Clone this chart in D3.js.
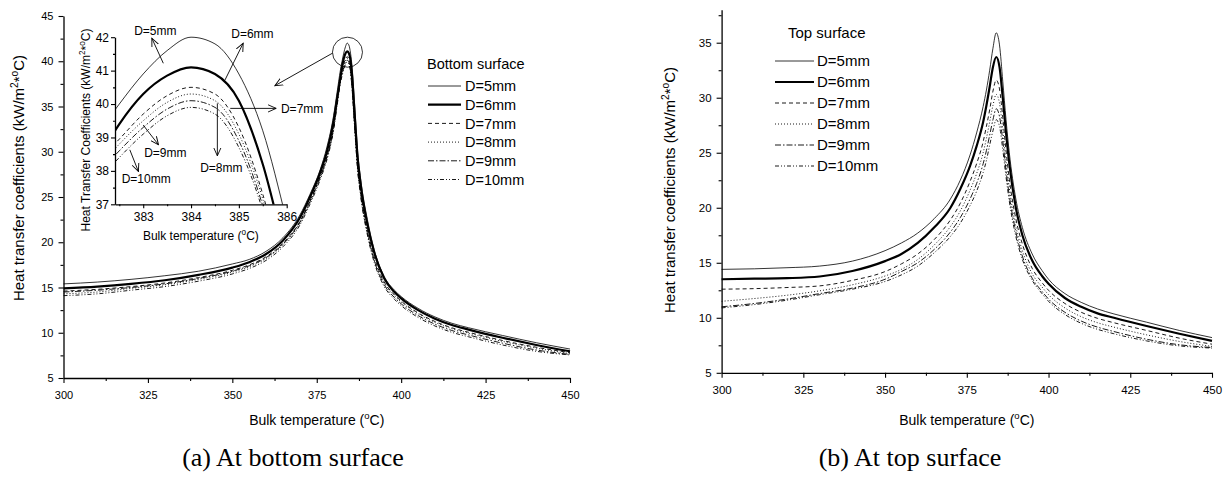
<!DOCTYPE html>
<html>
<head>
<meta charset="utf-8">
<script src="https://cdn.jsdelivr.net/npm/d3@7"></script>
<style>
  body { margin: 0; background: #fff; }
  svg { display: block; }
  text { font-family: Arial, "Liberation Sans", sans-serif; fill: #000; }
</style>
</head>
<body>
<div id="base"></div>
<script>
/* global d3 */

// series names (legend order)
var seriesNames = ["D=5mm", "D=6mm", "D=7mm", "D=8mm", "D=9mm", "D=10mm"];

// (a) bottom surface
var bottomTemps = [300, 310, 320, 330, 340, 350, 355, 360, 365, 370, 373, 376, 378, 380, 381, 382,
  382.5, 383, 383.5, 384, 384.5, 385, 385.5, 386, 386.5, 387, 388, 390, 392, 395, 398, 400,
  405, 410, 415, 420, 430, 440, 450];
var bottomD5 = [15.4, 15.6, 15.9, 16.3, 16.8, 17.6, 18.1, 19.0, 20.5, 23.0, 25.3, 28.0, 30.5, 34.0, 36.5, 39.0,
  40.0, 40.9, 41.6, 42.0, 41.8, 40.9, 39.2, 36.5, 33.5, 30.5, 27.0, 22.5, 19.2, 16.2, 14.7, 14.0,
  12.7, 11.75, 11.05, 10.55, 9.7, 8.9, 8.2];
var bottomD6 = [14.9, 15.1, 15.4, 15.8, 16.4, 17.2, 17.8, 18.7, 20.2, 22.7, 25.0, 27.7, 30.0, 33.4, 35.8, 38.2,
  39.4, 40.3, 40.85, 41.1, 40.9, 40.1, 38.2, 35.4, 32.6, 29.8, 26.4, 22.0, 18.9, 16.0, 14.5, 13.8,
  12.5, 11.55, 10.85, 10.35, 9.45, 8.65, 7.95];
var bottomD7 = [14.6, 14.8, 15.1, 15.5, 16.1, 16.9, 17.5, 18.4, 19.9, 22.3, 24.6, 27.3, 29.5, 32.8, 35.6, 38.2,
  38.95, 39.7, 40.25, 40.5, 40.3, 39.3, 37.3, 34.5, 31.7, 29.0, 25.7, 21.4, 18.4, 15.6, 14.2, 13.5,
  12.2, 11.25, 10.55, 10.05, 9.15, 8.4, 7.8];
var bottomD8 = [14.3, 14.5, 14.9, 15.3, 15.9, 16.7, 17.3, 18.2, 19.7, 22.1, 24.4, 27.1, 29.3, 32.6, 35.4, 38.0,
  38.8, 39.5, 40.05, 40.3, 40.1, 39.1, 37.15, 34.3, 31.5, 28.8, 25.5, 21.2, 18.2, 15.5, 14.1, 13.4,
  12.1, 11.15, 10.45, 9.95, 9.05, 8.3, 7.7];
var bottomD9 = [14.5, 14.7, 15.0, 15.4, 16.0, 16.8, 17.4, 18.3, 19.8, 22.2, 24.5, 27.2, 29.4, 32.7, 35.2, 37.8,
  38.6, 39.3, 39.85, 40.1, 39.9, 38.9, 36.95, 34.1, 31.3, 28.6, 25.3, 21.0, 18.0, 15.3, 13.9, 13.2,
  11.9, 10.95, 10.25, 9.75, 8.85, 8.1, 7.6];
var bottomD10 = [14.1, 14.3, 14.7, 15.1, 15.7, 16.5, 17.1, 18.0, 19.5, 21.9, 24.2, 26.9, 29.1, 32.4, 35.0, 37.6,
  38.4, 39.1, 39.65, 39.9, 39.7, 38.7, 36.8, 33.9, 31.1, 28.4, 25.1, 20.8, 17.8, 15.1, 13.7, 13.0,
  11.7, 10.75, 10.05, 9.55, 8.65, 7.95, 7.55];

// (b) top surface
var topTemps = [300, 310, 320, 330, 340, 350, 355, 360, 365, 370, 373, 376, 378, 380, 381, 382, 383, 384,
  385, 386, 387, 388, 390, 392, 395, 398, 400, 405, 410, 415, 420, 430, 440, 450];
var topD5 = [14.4, 14.45, 14.55, 14.7, 15.15, 16.1, 16.8, 17.7, 19.0, 20.8, 22.5, 24.8, 26.8, 29.2, 30.7, 32.5, 34.5, 35.9,
  34.8, 31.5, 28.0, 25.0, 20.8, 18.2, 15.8, 14.3, 13.5, 12.2, 11.4, 10.8, 10.35, 9.6, 8.85, 8.2];
var topD6 = [13.5, 13.55, 13.6, 13.75, 14.25, 15.15, 15.8, 16.8, 18.2, 20.0, 21.7, 23.8, 25.6, 27.8, 29.3, 31.0, 32.8, 33.7,
  32.8, 30.0, 26.8, 24.0, 20.0, 17.5, 15.2, 13.8, 13.1, 11.8, 11.0, 10.4, 10.0, 9.25, 8.55, 7.9];
var topD7 = [12.6, 12.65, 12.75, 12.9, 13.4, 14.2, 14.9, 15.8, 17.1, 18.9, 20.4, 22.4, 24.0, 26.0, 27.4, 28.9, 30.6, 31.6,
  30.8, 28.2, 25.2, 22.6, 19.0, 16.7, 14.5, 13.2, 12.5, 11.3, 10.5, 9.95, 9.55, 8.85, 8.15, 7.6];
var topD8 = [11.5, 11.75, 12.05, 12.45, 13.0, 13.8, 14.4, 15.3, 16.6, 18.3, 19.7, 21.6, 23.1, 25.0, 26.3, 27.8, 29.3, 30.3,
  29.5, 27.1, 24.2, 21.8, 18.3, 16.1, 14.0, 12.8, 12.1, 10.9, 10.1, 9.55, 9.15, 8.45, 7.85, 7.4];
var topD9 = [11.0, 11.3, 11.7, 12.2, 12.7, 13.5, 14.2, 15.0, 16.2, 17.8, 19.1, 20.8, 22.2, 24.0, 25.2, 26.6, 28.0, 29.0,
  28.3, 26.1, 23.4, 21.1, 17.8, 15.6, 13.6, 12.4, 11.7, 10.5, 9.7, 9.15, 8.75, 8.05, 7.55, 7.3];
var topD10 = [10.9, 11.2, 11.6, 12.1, 12.6, 13.3, 13.9, 14.7, 15.9, 17.4, 18.6, 20.2, 21.5, 23.2, 24.3, 25.7, 27.0, 28.0,
  27.4, 25.3, 22.8, 20.6, 17.4, 15.3, 13.4, 12.2, 11.5, 10.3, 9.5, 8.95, 8.55, 7.9, 7.45, 7.25];

// tick values
var xMajor = [300, 325, 350, 375, 400, 425, 450];
var xMinor = [312.5, 337.5, 362.5, 387.5, 412.5, 437.5];
var yMajorBottom = [5, 10, 15, 20, 25, 30, 35, 40, 45];
var yMajorTop = [5, 10, 15, 20, 25, 30, 35];
var insetXMajor = [383, 384, 385, 386];
var insetXMinor = [382.5, 383.5, 384.5, 385.5];
var insetYMajor = [37, 38, 39, 40, 41, 42];
var insetYMinor = [37.5, 38.5, 39.5, 40.5, 41.5];

// inset labels: [label, text x, text y, arrow from x, from y, arrow to x, to y] in inset units
var insetNotes = [
  ["D=5mm", 382.81, 42.07, 383.42, 41.22, 383.18, 41.97],
  ["D=6mm", 384.84, 41.98, 384.71, 40.72, 385.09, 41.82],
  ["D=7mm", 385.88, 39.73, 384.82, 39.87, 385.78, 39.87],
  ["D=8mm", 384.19, 37.98, 384.55, 40.02, 384.55, 38.45],
  ["D=9mm", 383.02, 38.41, 383.0, 39.37, 383.32, 38.78],
  ["D=10mm", 382.55, 37.63, 382.72, 38.63, 382.9, 37.98]
];

// how the six lines look
var lineStyles = [
  { width: 0.8, dash: null },
  { width: 2.2, dash: null },
  { width: 0.9, dash: "4,3" },
  { width: 0.9, dash: "1,2" },
  { width: 0.9, dash: "6,2,1.5,2" },
  { width: 0.9, dash: "4,2,1,2,1,2" }
];

const width = 1228, height = 477;
const svg = d3.select("#base").append("svg")
    .attr("width", width)
    .attr("height", height);

const defs = svg.append("defs");
defs.append("marker")
    .attr("id", "arrow")
    .attr("viewBox", "0 -5 10 10")
    .attr("refX", 9).attr("refY", 0)
    .attr("markerUnits", "userSpaceOnUse")
    .attr("markerWidth", 9).attr("markerHeight", 9)
    .attr("orient", "auto")
  .append("path")
    .attr("d", "M0,-4L9,0L0,4")
    .attr("fill", "none")
    .attr("stroke", "#000")
    .attr("stroke-width", 1);

defs.append("clipPath").attr("id", "insetClip")
  .append("rect").attr("x", 115).attr("y", 28).attr("width", 172).attr("height", 176.5);

function toSeries(xs, cols) {
  return cols.map((col, i) => ({ name: seriesNames[i], style: lineStyles[i], values: xs.map((t, j) => [t, col[j]]) }));
}
const bottomSeries = toSeries(bottomTemps, [bottomD5, bottomD6, bottomD7, bottomD8, bottomD9, bottomD10]);
const topSeries = toSeries(topTemps, [topD5, topD6, topD7, topD8, topD9, topD10]);

// text with superscripts: parts = [[text, isSup], ...]
function richText(sel, parts, size) {
  let wasSup = false;
  parts.forEach(p => {
    const ts = sel.append("tspan").text(p[0]);
    if (p[1]) {
      ts.attr("font-size", size * 0.68).attr("dy", -size * 0.42);
      wasSup = true;
    } else if (wasSup) {
      ts.attr("dy", size * 0.42);
      wasSup = false;
    }
  });
}
const bulkLabel = [["Bulk temperature (", false], ["o", true], ["C)", false]];
const htcLabel = [["Heat transfer coefficients (kW/m", false], ["2", true], ["*", false], ["o", true], ["C)", false]];
const insetHtcLabel = [["Heat Transfer Coefficients (kW/m", false], ["2", true], ["*", false], ["o", true], ["C)", false]];

function styleAxis(g, size) {
  g.selectAll(".domain").attr("stroke", "#000").attr("stroke-width", 1.3);
  g.selectAll(".tick line").attr("stroke", "#000").attr("stroke-width", 1.1);
  g.selectAll(".tick text").attr("font-size", size).attr("font-family", "Arial, 'Liberation Sans', sans-serif").attr("fill", "#000");
}

function drawAxes(g, x, y, xMaj, xMin, yMaj, yMin, opt) {
  const fmt = d3.format("d");
  const xa = g.append("g").attr("transform", `translate(0,${y.range()[0]})`)
      .call(d3.axisBottom(x).tickValues(xMaj).tickFormat(fmt).tickSize(opt.major).tickSizeOuter(0).tickPadding(opt.xPad));
  styleAxis(xa, opt.font);
  const xm = g.append("g").attr("transform", `translate(0,${y.range()[0]})`)
      .call(d3.axisBottom(x).tickValues(xMin).tickSize(opt.minor).tickFormat(""));
  xm.select(".domain").remove();
  styleAxis(xm, opt.font);

  const ya = g.append("g").attr("transform", `translate(${x.range()[0]},0)`)
      .call(d3.axisLeft(y).tickValues(yMaj).tickFormat(fmt).tickSize(opt.major).tickSizeOuter(0).tickPadding(opt.yPad));
  styleAxis(ya, opt.font);
  const ym = g.append("g").attr("transform", `translate(${x.range()[0]},0)`)
      .call(d3.axisLeft(y).tickValues(yMin).tickSize(opt.minor).tickFormat(""));
  ym.select(".domain").remove();
  styleAxis(ym, opt.font);
}

function drawLines(g, series, x, y) {
  const line = d3.line().x(d => x(d[0])).y(d => y(d[1])).curve(d3.curveMonotoneX);
  g.selectAll("path.series")
    .data(series)
    .join("path")
      .attr("class", "series")
      .attr("fill", "none")
      .attr("stroke", "#000")
      .attr("stroke-width", d => d.style.width)
      .attr("stroke-dasharray", d => d.style.dash)
      .attr("d", d => line(d.values));
}

function drawLegend(g, series, title, x0, titleY, rowY, rowStep, lineLen, size) {
  g.append("text").attr("x", x0.title).attr("y", titleY).attr("font-size", size).text(title);
  const rows = g.selectAll("g.leg").data(series).join("g").attr("class", "leg")
      .attr("transform", (d, i) => `translate(0,${rowY + i * rowStep})`);
  rows.append("line")
      .attr("x1", x0.line).attr("x2", x0.line + lineLen)
      .attr("stroke", "#000")
      .attr("stroke-width", d => d.style.width)
      .attr("stroke-dasharray", d => d.style.dash);
  rows.append("text").attr("x", x0.text).attr("y", size * 0.36).attr("font-size", size).text(d => d.name);
}

// ---------- (a) bottom surface ----------
const xa = d3.scaleLinear().domain([300, 450]).range([63.5, 570]);
const ya = d3.scaleLinear().domain([5, 45]).range([378, 16]);
const ga = svg.append("g");
drawAxes(ga, xa, ya, xMajor, xMinor, yMajorBottom, d3.range(7.5, 45, 5), { major: 5, minor: 3, xPad: 8, yPad: 5, font: 11 });
drawLines(ga.append("g"), bottomSeries, xa, ya);

ga.append("text").attr("text-anchor", "middle")
    .attr("transform", "translate(24,178) rotate(-90)")
    .attr("font-size", 15)
    .call(t => richText(t, htcLabel, 15));
ga.append("text").attr("text-anchor", "middle").attr("x", (xa(300) + xa(450)) / 2).attr("y", 425)
    .attr("font-size", 14).call(t => richText(t, bulkLabel, 14));

// circle on the peak and arrow to the inset
ga.append("circle").attr("cx", xa(384.1)).attr("cy", ya(41.0)).attr("r", 15)
    .attr("fill", "none").attr("stroke", "#000").attr("stroke-width", 0.8);
ga.append("line")
    .attr("x1", xa(379.7)).attr("y1", ya(40.9)).attr("x2", xa(362.6)).attr("y2", ya(37.3))
    .attr("stroke", "#000").attr("stroke-width", 0.9).attr("marker-end", "url(#arrow)");

drawLegend(ga.append("g"), bottomSeries, "Bottom surface", { title: 427, line: 428, text: 465 }, 69, 86, 18.7, 33, 14.5);

// inset
const ix = d3.scaleLinear().domain([382.41, 386]).range([115, 286.7]);
const iy = d3.scaleLinear().domain([37, 42]).range([204.3, 37.2]);
const gi = svg.append("g");
drawAxes(gi, ix, iy, insetXMajor, insetXMinor, insetYMajor, insetYMinor, { major: 4, minor: 2, xPad: 4, yPad: 2, font: 12 });
drawLines(gi.append("g").attr("clip-path", "url(#insetClip)"), bottomSeries, ix, iy);
gi.append("text").attr("text-anchor", "middle")
    .attr("transform", "translate(90,130) rotate(-90)")
    .attr("font-size", 12)
    .call(t => richText(t, insetHtcLabel, 12));
gi.append("text").attr("text-anchor", "middle").attr("x", (ix.range()[0] + ix.range()[1]) / 2).attr("y", 240)
    .attr("font-size", 12).call(t => richText(t, bulkLabel, 12));

const notes = gi.selectAll("g.note").data(insetNotes).join("g").attr("class", "note");
notes.append("line")
    .attr("x1", d => ix(d[3])).attr("y1", d => iy(d[4]))
    .attr("x2", d => ix(d[5])).attr("y2", d => iy(d[6]))
    .attr("stroke", "#000").attr("stroke-width", 0.9).attr("marker-end", "url(#arrow)");
notes.append("text").attr("x", d => ix(d[1])).attr("y", d => iy(d[2])).attr("font-size", 12).text(d => d[0]);

// ---------- (b) top surface ----------
const xb = d3.scaleLinear().domain([300, 450]).range([721.6, 1212]);
const yb = d3.scaleLinear().domain([5, 38]).range([372.8, 9.7]);
const gb = svg.append("g");
drawAxes(gb, xb, yb, xMajor, xMinor, yMajorTop, d3.range(7.5, 38, 5), { major: 5, minor: 3, xPad: 8, yPad: 5, font: 11.5 });
drawLines(gb.append("g"), topSeries, xb, yb);

gb.append("text").attr("text-anchor", "middle")
    .attr("transform", "translate(675,190) rotate(-90)")
    .attr("font-size", 15)
    .call(t => richText(t, htcLabel, 15));
gb.append("text").attr("text-anchor", "middle").attr("x", (xb(300) + xb(450)) / 2).attr("y", 425)
    .attr("font-size", 14).call(t => richText(t, bulkLabel, 14));

drawLegend(gb.append("g"), topSeries, "Top surface", { title: 788, line: 775, text: 817 }, 38, 61, 21, 39, 15);

// ---------- captions ----------
svg.append("text").attr("x", 293).attr("y", 466).attr("text-anchor", "middle")
    .style("font-family", "'Liberation Serif', 'Times New Roman', serif").attr("font-size", 26)
    .text("(a) At bottom surface");
svg.append("text").attr("x", 910).attr("y", 466).attr("text-anchor", "middle")
    .style("font-family", "'Liberation Serif', 'Times New Roman', serif").attr("font-size", 26)
    .text("(b) At top surface");
</script>
</body>
</html>
